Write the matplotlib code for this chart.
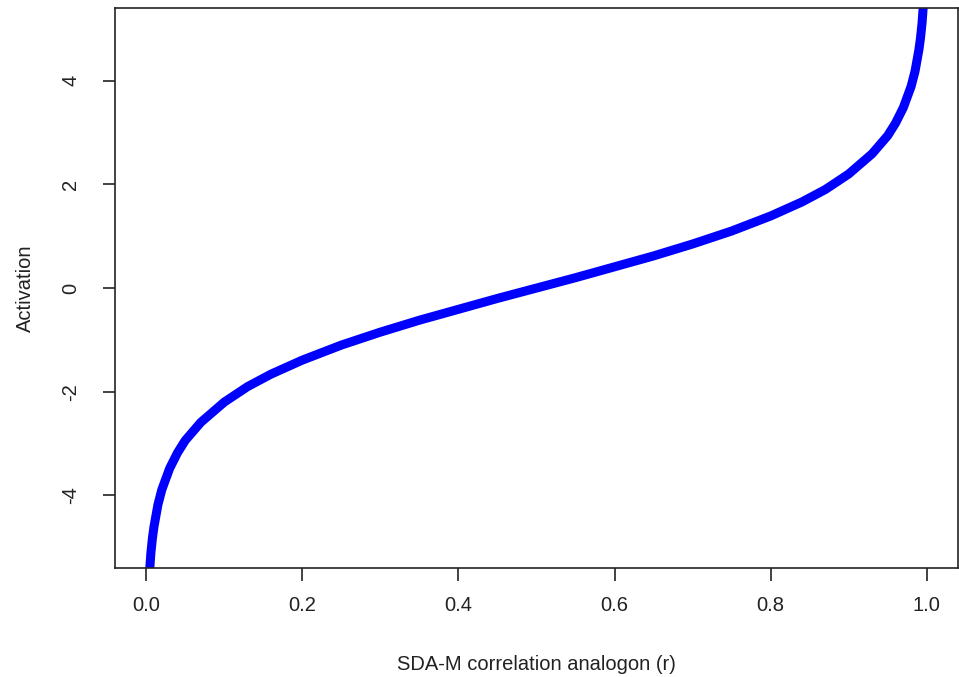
# Activation vs SDA-M correlation analogon

import matplotlib
matplotlib.use('Agg')
import matplotlib.pyplot as plt

# values
r_values = [0.002, 0.004, 0.006, 0.008, 0.01, 0.015, 0.02, 0.03, 0.04, 0.05,
            0.07, 0.1, 0.13, 0.16, 0.2, 0.25, 0.3, 0.35, 0.4, 0.45, 0.5,
            0.55, 0.6, 0.65, 0.7, 0.75, 0.8, 0.84, 0.87, 0.9, 0.93, 0.95,
            0.96, 0.97, 0.98, 0.985, 0.99, 0.992, 0.994, 0.996, 0.998]
activation = [-6.21, -5.52, -5.11, -4.82, -4.60, -4.18, -3.89, -3.48, -3.18, -2.94,
              -2.59, -2.20, -1.90, -1.66, -1.39, -1.10, -0.85, -0.62, -0.41, -0.20, 0.0,
              0.20, 0.41, 0.62, 0.85, 1.10, 1.39, 1.66, 1.90, 2.20, 2.59, 2.94,
              3.18, 3.48, 3.89, 4.18, 4.60, 4.82, 5.11, 5.52, 6.21]

x_ticks = [0.0, 0.2, 0.4, 0.6, 0.8, 1.0]
y_ticks = [-4, -2, 0, 2, 4]

plt.rcParams['font.family'] = ['Liberation Sans', 'DejaVu Sans']

fig = plt.figure(figsize=(9.59, 6.77), dpi=100)
ax = fig.add_axes((0.1199, 0.161, 0.879, 0.827))

ax.plot(r_values, activation, color='#0000ff', linewidth=6.5, solid_capstyle='butt')

ax.set_xlim(-0.04, 1.04)
ax.set_ylim(-5.4, 5.4)
ax.set_xticks(x_ticks)
ax.set_xticklabels(['{:.1f}'.format(v) for v in x_ticks])
ax.set_yticks(y_ticks)
ax.set_yticklabels([str(v) for v in y_ticks], rotation=90, va='center')

for spine in ax.spines.values():
    spine.set_linewidth(1.2)
    spine.set_color('#222222')

ax.tick_params(axis='both', direction='out', length=9, width=1.2, color='#222222',
               labelsize=14.5, labelcolor='#222222')
ax.tick_params(axis='x', pad=11)
ax.tick_params(axis='y', pad=16)

fig.text(0.5 * (0.1199 + 0.999), 1 - 664 / 677, 'SDA-M correlation analogon (r)',
         ha='center', va='center', fontsize=14.5, color='#222222')
fig.text(25 / 959, 1 - 288 / 677, 'Activation', rotation=90,
         ha='center', va='center', fontsize=14.5, color='#222222')

plt.savefig('out.png')
